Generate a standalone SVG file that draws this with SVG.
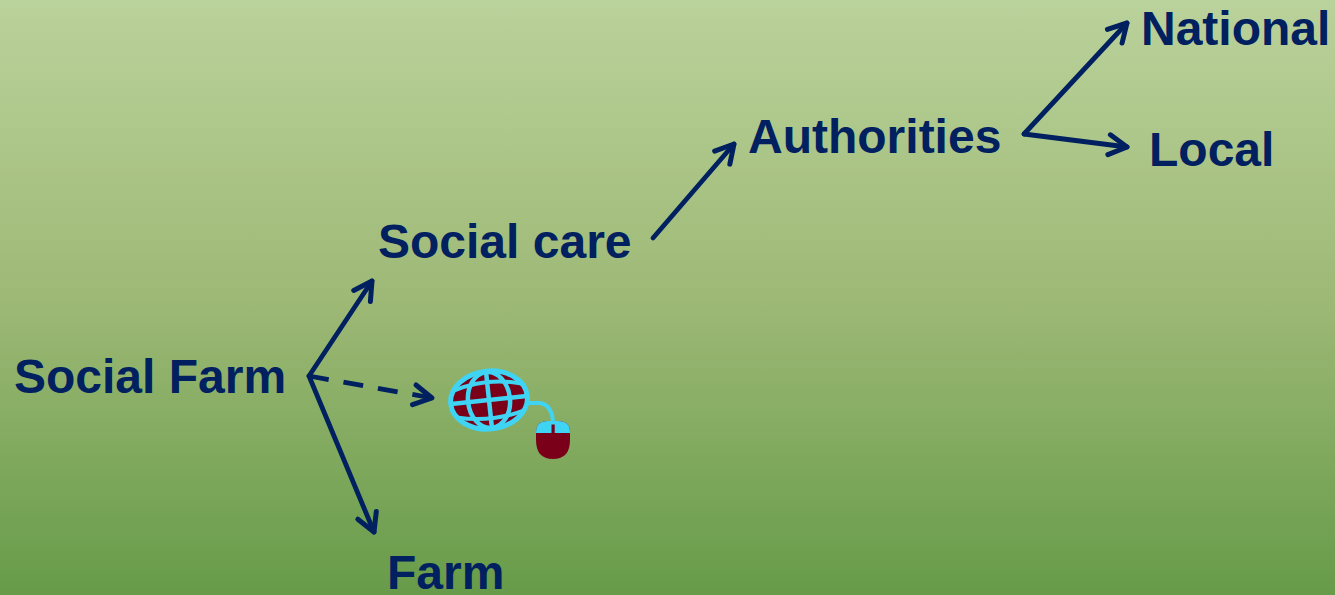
<svg xmlns="http://www.w3.org/2000/svg" width="1335" height="595" viewBox="0 0 1335 595">
  <defs>
    <linearGradient id="bg" x1="0" y1="0" x2="0" y2="1">
      <stop offset="0" stop-color="#bad29b"/>
      <stop offset="0.5" stop-color="#9eb976"/>
      <stop offset="1" stop-color="#669b49"/>
    </linearGradient>
    <marker id="arrow" markerUnits="userSpaceOnUse" markerWidth="40" markerHeight="40" refX="0" refY="0" viewBox="-20 -20 40 40" orient="auto" overflow="visible">
      <path d="M-18,-10 L0,0 L-18,10" fill="none" stroke="#002060" stroke-width="5" stroke-linecap="round" stroke-linejoin="round"/>
    </marker>
    <style>
      .lbl { font-family: "Liberation Sans", Arial, sans-serif; font-weight: bold; font-size: 48px; fill: #002060; }
      .conn { fill: none; stroke: #002060; stroke-width: 4.8; stroke-linecap: round; marker-end: url(#arrow); }
      .dash { stroke-dasharray: 20 15; stroke-linecap: butt; }
      .cy { stroke: #40d4f4; fill: none; }
    </style>
  </defs>
  <rect x="0" y="0" width="1335" height="595" fill="url(#bg)"/>

  <g id="connectors">
    <line class="conn" x1="309" y1="376" x2="372" y2="281"/>
    <line class="conn dash" x1="309" y1="376" x2="432" y2="398"/>
    <line class="conn" x1="309" y1="376" x2="374" y2="532"/>
    <line class="conn" x1="653" y1="238" x2="734" y2="144"/>
    <line class="conn" x1="1024" y1="134" x2="1127" y2="23"/>
    <line class="conn" x1="1024" y1="134" x2="1127" y2="147"/>
  </g>

  <g id="node-social-farm"><text class="lbl" x="14" y="393">Social Farm</text></g>
  <g id="node-social-care"><text class="lbl" x="378" y="258">Social care</text></g>
  <g id="node-authorities"><text class="lbl" x="748" y="153">Authorities</text></g>
  <g id="node-national"><text class="lbl" x="1141" y="45">National</text></g>
  <g id="node-local"><text class="lbl" x="1149" y="166">Local</text></g>
  <g id="node-farm"><text class="lbl" x="387" y="589">Farm</text></g>

  <g id="node-web">
    <g transform="rotate(-6 489 400)">
      <ellipse cx="489" cy="400" rx="38.5" ry="29" fill="#7a0019" stroke="#40d4f4" stroke-width="5"/>
      <ellipse class="cy" cx="489" cy="400" rx="21" ry="28" stroke-width="4.5"/>
      <line class="cy" x1="489" y1="372" x2="489" y2="428" stroke-width="4.5"/>
      <line class="cy" x1="451" y1="400" x2="527" y2="400" stroke-width="4.5"/>
      <path class="cy" d="M455,387 Q489,377 523,387" stroke-width="4"/>
      <path class="cy" d="M455,414 Q489,423 523,414" stroke-width="4"/>
    </g>
    <path class="cy" d="M528,403 L540,403 Q552,405 553,422" stroke-width="4"/>
    <path d="M536,433 L536,432 Q536,421 548,421 L558,421 Q570,421 570,432 L570,440 Q570,459 553,459 Q536,459 536,440 Z" fill="#7a0019"/>
    <path d="M536,433 L536,432 Q536,421 548,421 L558,421 Q570,421 570,432 L570,433 Z" fill="#40d4f4"/>
    <rect x="551.5" y="424.5" width="3.2" height="9" fill="#7a0019"/>
  </g>
</svg>
